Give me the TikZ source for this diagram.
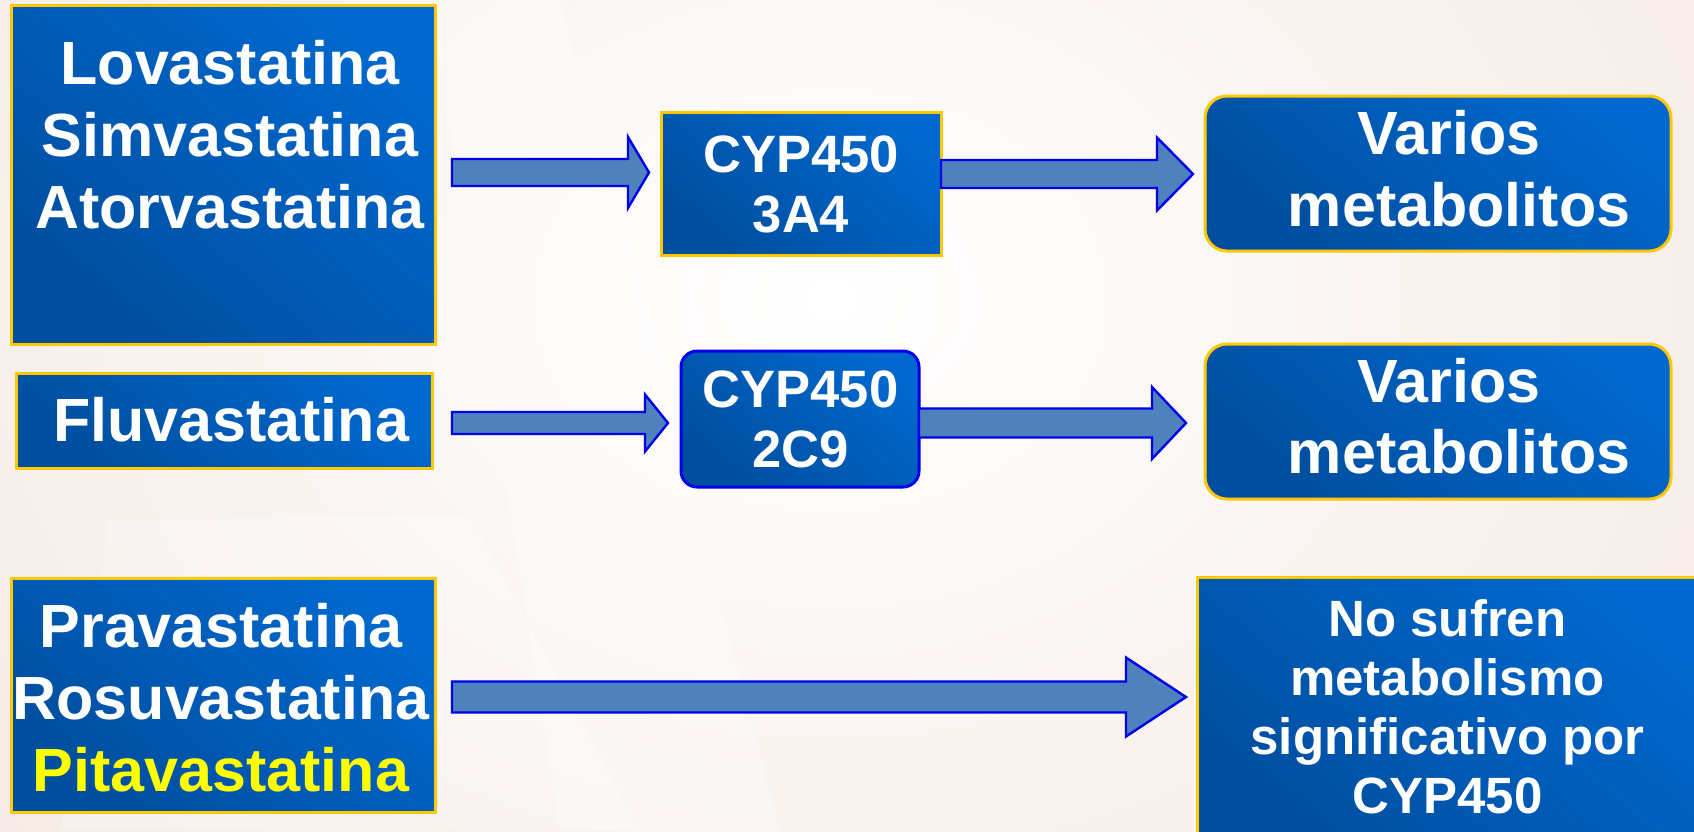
\documentclass[tikz,border=0pt]{standalone}
\usepackage{fontspec}
\setmainfont{Liberation Sans}
\usetikzlibrary{calc}

\definecolor{boxlight}{RGB}{0,104,206}
\definecolor{boxdark}{RGB}{0,78,158}
\definecolor{gold}{RGB}{255,200,0}
\definecolor{arrowfill}{RGB}{79,129,189}
\definecolor{arrowline}{RGB}{0,0,235}
\definecolor{bgpeach}{RGB}{238,220,210}
\definecolor{pitayellow}{RGB}{255,255,0}

% block arrow from a start coordinate to a tip coordinate (same height):
% #1 start, #2 tip, #3 shaft half-height, #4 head half-height, #5 head length
\newcommand{\blockarrow}[5]{%
  \draw[arrowstyle]
    ($(#1)+(0,-#3)$) -- ($(#2)+(-#5,-#3)$) -- ($(#2)+(-#5,-#4)$) -- (#2)
    -- ($(#2)+(-#5,#4)$) -- ($(#2)+(-#5,#3)$) -- ($(#1)+(0,#3)$) -- cycle;}

\begin{document}
\begin{tikzpicture}[x=1pt,y=-1pt,
  panel/.style={draw=gold, line width=3pt, top color=boxlight, bottom color=boxdark,
    shading angle=-40, inner sep=0pt, outer sep=0pt, anchor=north west},
  roundpanel/.style={panel, rounded corners=22pt},
  bluepanel/.style={panel, draw=arrowline, rounded corners=16pt},
  arrowstyle/.style={fill=arrowfill, draw=arrowline, line width=2.4pt, line join=miter},
  bigtxt/.style={text=white, font=\fontsize{61}{72}\selectfont\bfseries,
    align=center, inner sep=0pt, anchor=base},
  cyptxt/.style={bigtxt, font=\fontsize{52.6}{60}\selectfont\bfseries},
  notetxt/.style={bigtxt, font=\fontsize{51}{59}\selectfont\bfseries}
]
\useasboundingbox (0,0) rectangle (1694,831);
\clip (0,0) rectangle (1694,831);

% warm background with a bright centre
\fill[bgpeach] (0,0) rectangle (1694,831);
\shade[inner color=white, outer color=bgpeach] (830,300) ellipse (1900 and 1450);
\fill[white, opacity=0.25] (430,0) -- (560,0) -- (780,831) -- (560,831) -- cycle;
\fill[white, opacity=0.25] (110,520) -- (470,515) -- (640,831) -- (60,831) -- cycle;

% statin groups
\node[panel, minimum width=424pt, minimum height=339pt] (lova) at (11,5) {};
\node[panel, minimum width=416pt, minimum height=95pt] (fluva) at (16,373) {};
\node[panel, minimum width=424pt, minimum height=234pt] (prava) at (11,578) {};

% enzymes
\node[panel, minimum width=280pt, minimum height=143pt] (cyp3a4) at (661,112) {};
\node[bluepanel, minimum width=238pt, minimum height=136pt] (cyp2c9) at (681,351) {};

% outcomes
\node[roundpanel, minimum width=466pt, minimum height=155pt] (met1) at (1205,96) {};
\node[roundpanel, minimum width=466pt, minimum height=155pt] (met2) at (1205,344) {};
\node[panel, minimum width=510pt, minimum height=280pt] (nomet) at (1197,577) {};

% texts (anchored at the baseline of their last line)
\node[bigtxt] (lovatxt) at (230,228.5) {Lovastatina\\Simvastatina\\Atorvastatina};
\node[bigtxt] (fluvatxt) at (231,441.7) {Fluvastatina};
\node[bigtxt] (pravatxt) at (221,791) {Pravastatina\\Rosuvastatina\\\textcolor{pitayellow}{Pitavastatina}};
\node[cyptxt] (cyp3a4txt) at (801,232.7) {CYP450\\3A4};
\node[cyptxt] (cyp2c9txt) at (800.5,467.5) {CYP450\\2C9};
\node[bigtxt] (met1a) at (1449,154) {Varios};
\node[bigtxt] (met1b) at (1459,226) {metabolitos};
\node[bigtxt] (met2a) at (1449,402) {Varios};
\node[bigtxt] (met2b) at (1459,473) {metabolitos};
\node[notetxt] (nomettxt) at (1447.5,813) {No sufren\\metabolismo\\significativo por\\CYP450};

% connectors
\path (lova.east) ++(17,-2) coordinate (a1s);
\path (a1s -| cyp3a4.west) ++(-12,0) coordinate (a1t);
\blockarrow{a1s}{a1t}{13.5}{35.5}{21}

\path (fluva.east) ++(20,2.5) coordinate (a2s);
\path (a2s -| cyp2c9.west) ++(-13,0) coordinate (a2t);
\blockarrow{a2s}{a2t}{11}{28.5}{23}

\path (cyp3a4.east) ++(0,-9.5) coordinate (a3s);
\path (a3s -| met1.west) ++(-12,0) coordinate (a3t);
\blockarrow{a3s}{a3t}{14}{36.5}{36}

\path (cyp2c9.east) ++(0,4) coordinate (a4s);
\path (a4s -| met2.west) ++(-19,0) coordinate (a4t);
\blockarrow{a4s}{a4t}{14.5}{36}{34}

\path (prava.east) ++(17,2) coordinate (a5s);
\path (a5s -| nomet.west) ++(-11,0) coordinate (a5t);
\blockarrow{a5s}{a5t}{15.5}{39.5}{60}
\end{tikzpicture}
\end{document}
